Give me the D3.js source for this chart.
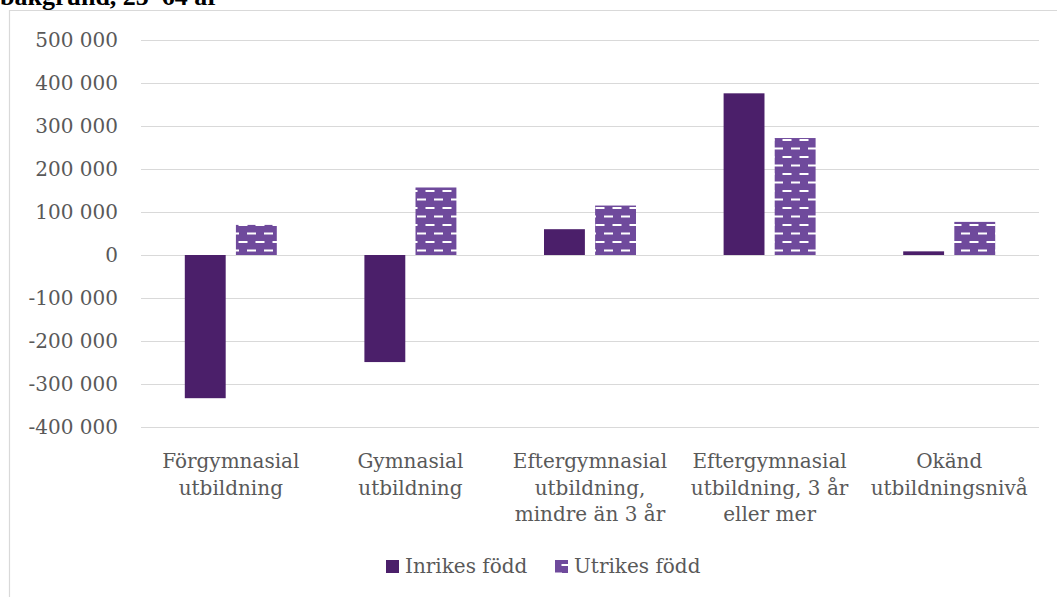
<!DOCTYPE html>
<html><head><meta charset="utf-8">
<script src="https://cdn.jsdelivr.net/npm/d3@7"></script>
<style>html,body{margin:0;padding:0;background:#fff;}svg{display:block;}</style>
</head><body>
<script>
const categories = [
  ["Förgymnasial", "utbildning"],
  ["Gymnasial", "utbildning"],
  ["Eftergymnasial", "utbildning,", "mindre än 3 år"],
  ["Eftergymnasial", "utbildning, 3 år", "eller mer"],
  ["Okänd", "utbildningsnivå"]
];
const seriesNames = ["Inrikes född", "Utrikes född"];
const inrikes = [-333000, -249000, 60000, 376000, 8500];
const utrikes = [70000, 157000, 115000, 272000, 77000];
const yTicks = [-400000, -300000, -200000, -100000, 0, 100000, 200000, 300000, 400000, 500000];

const W = 1057, H = 597;
const svg = d3.select("body").append("svg").attr("width", W).attr("height", H);
const defs = svg.append("defs");
const pat = defs.append("pattern").attr("id", "dash").attr("patternUnits", "userSpaceOnUse")
  .attr("width", 17).attr("height", 17);
pat.append("rect").attr("width", 17).attr("height", 17).attr("fill", "#6f4a9c");
pat.append("rect").attr("x", 0.5).attr("y", 3).attr("width", 9).attr("height", 2).attr("fill", "#fff");
pat.append("rect").attr("x", 9).attr("y", 11.5).attr("width", 9).attr("height", 2).attr("fill", "#fff");
pat.append("rect").attr("x", -8).attr("y", 11.5).attr("width", 9).attr("height", 2).attr("fill", "#fff");

// title fragment (cut off at the top as in the reference)
svg.append("text").attr("x", 0).attr("y", 5).attr("font-family", "Liberation Serif")
  .attr("font-weight", "bold").attr("font-size", 26).attr("fill", "#000").text("bakgrund, 25–64 år");

// frame
svg.append("path").attr("d", `M9.5,${H+2} V10.5 H${W+2}`).attr("fill", "none")
  .attr("stroke", "#d9d9d9").attr("stroke-width", 1.2);

const left = 141, right = 1039;
const y = d3.scaleLinear().domain([-400000, 500000]).range([427, 40]);
const x0 = d3.scaleBand().domain(d3.range(categories.length)).range([left, right]).padding(0);
const x1 = d3.scaleBand().domain([0, 1]).range([0, 92]).paddingInner(0.2);
const off = (x0.bandwidth() - 92) / 2;

const font = "DejaVu Serif";
const fs = 20;
const fmt = v => (v < 0 ? "-" : "") + d3.format(",")(Math.abs(v)).replace(/,/g, " ");

const yAxis = d3.axisLeft(y).tickValues(yTicks).tickSize(-(right - left)).tickFormat(fmt);
const ga = svg.append("g").attr("transform", `translate(${left},0)`).call(yAxis);
ga.select(".domain").remove();
ga.selectAll(".tick line").attr("stroke", "#d9d9d9").attr("stroke-width", 1.2);
ga.selectAll(".tick text").attr("x", -23).attr("font-family", font).attr("font-size", fs)
  .attr("fill", "#595959");

const data = categories.map((c, i) => [inrikes[i], utrikes[i]]);
const fills = ["#4b1f6a", "url(#dash)"];
data.forEach((vals, i) => {
  vals.forEach((v, s) => {
    svg.append("rect")
      .attr("x", x0(i) + off + x1(s))
      .attr("width", x1.bandwidth())
      .attr("y", y(Math.max(0, v)))
      .attr("height", Math.abs(y(v) - y(0)))
      .attr("fill", fills[s]);
  });
});

// category labels
categories.forEach((lines, i) => {
  const cx = x0(i) + x0.bandwidth() / 2;
  const t = svg.append("text").attr("x", cx).attr("text-anchor", "middle")
    .attr("font-family", font).attr("font-size", fs).attr("fill", "#595959");
  lines.forEach((l, k) => t.append("tspan").attr("x", cx).attr("y", 468 + k * 26.5).text(l));
});

// legend
const legX = [386, 555];
seriesNames.forEach((n, s) => {
  svg.append("rect").attr("x", legX[s]).attr("y", 560).attr("width", 13).attr("height", 13)
    .attr("fill", s === 0 ? "#4b1f6a" : "url(#dash)");
  svg.append("text").attr("x", legX[s] + 19).attr("y", 573).attr("font-family", font)
    .attr("font-size", fs).attr("fill", "#595959").text(n);
});
</script>
</body></html>
